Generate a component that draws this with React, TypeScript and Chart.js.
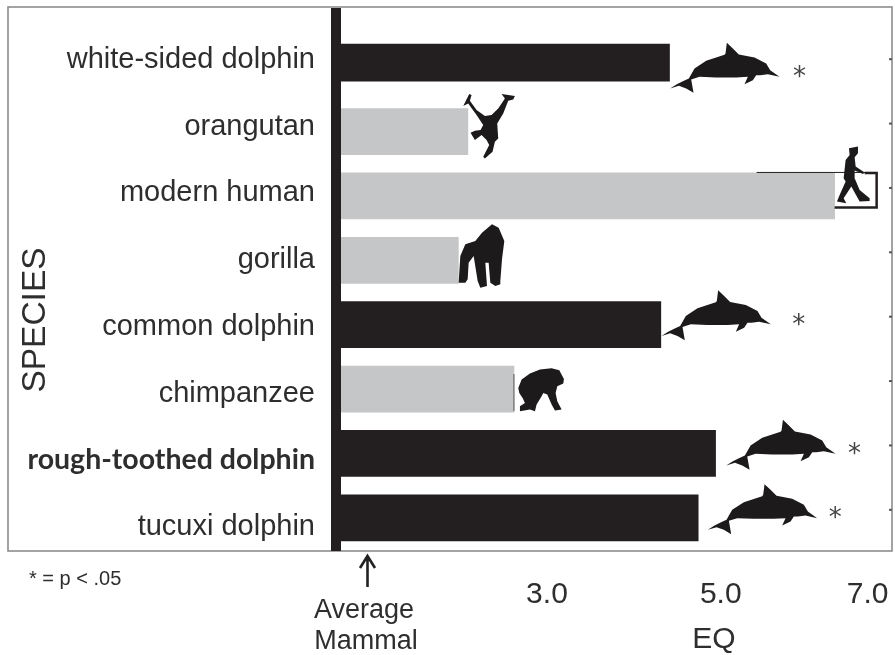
import React, { useEffect, useRef } from "react";
import { Chart, registerables } from "chart.js";

Chart.register(...registerables);

const species = [
  "white-sided dolphin",
  "orangutan",
  "modern human",
  "gorilla",
  "common dolphin",
  "chimpanzee",
  "rough-toothed dolphin",
  "tucuxi dolphin",
];
const eqValues = [4.41, 2.09, 6.31, 1.98, 4.31, 2.62, 4.94, 4.74];
const isCetacean = [true, false, false, false, true, false, true, true];
const significant = [true, false, false, false, true, false, true, true];
const xTickLabels = ["3.0", "5.0", "7.0"];
const xTickAnchors = [3, 5, 6.69];

const BLACK = "#231f20";
const GRAY = "#c5c6c8";
const TEXT = "#2e2e2e";
const SANS = '"Liberation Sans", Arial, sans-serif';

type Pt = number[];
const DOLPHIN: Pt[] = [[92,205],[112,192],[130,183],[148,175],[165,145],[200,122],[255,104],[258,100],[262,68],[280,85],[298,103],[345,112],[380,130],[392,150],[420,170],[385,162],[362,165],[350,165],[340,180],[315,192],[325,170],[290,172],[230,172],[180,170],[155,178],[162,218],[140,205],[118,197]];
const ORANGUTAN: Pt[] = [[70,78],[88,42],[95,45],[90,62],[110,90],[135,108],[155,105],[175,85],[195,55],[185,42],[225,48],[220,58],[205,62],[190,100],[172,130],[175,175],[165,185],[158,215],[135,235],[130,230],[148,195],[140,180],[125,165],[105,180],[92,158],[105,152],[122,150],[130,135],[110,105],[85,70]];
const HUMAN: Pt[] = [[628,385],[655,380],[655,400],[645,412],[648,440],[675,458],[670,462],[645,452],[645,475],[660,510],[690,535],[690,543],[660,545],[635,500],[612,535],[620,550],[592,545],[600,525],[618,485],[612,475],[618,420],[630,405]];
const GORILLA: Pt[] = [[55,190],[60,110],[75,75],[105,65],[125,40],[155,15],[175,25],[192,65],[185,120],[180,185],[180,195],[165,200],[150,190],[145,130],[135,130],[140,200],[120,205],[112,185],[100,110],[85,130],[82,180],[75,190]];
const CHIMP: Pt[] = [[235,505],[245,480],[270,462],[300,450],[335,446],[358,452],[372,478],[370,492],[352,500],[347,520],[352,545],[365,570],[345,573],[335,555],[322,525],[310,520],[305,530],[290,555],[285,575],[270,570],[240,575],[240,560],[255,550],[248,535],[238,520]];

const silhouettes: { shape: Pt[]; dx: number; dy: number }[] = [
  { shape: DOLPHIN, dx: -30, dy: -47 },
  { shape: ORANGUTAN, dx: -28, dy: -51.5 },
  { shape: HUMAN, dx: -195, dy: -176 },
  { shape: GORILLA, dx: -18, dy: -41 },
  { shape: DOLPHIN, dx: -30, dy: -57 },
  { shape: CHIMP, dx: -74, dy: -169.5 },
  { shape: DOLPHIN, dx: -20, dy: -56.3 },
  { shape: DOLPHIN, dx: -21, dy: -56.3 },
];
const starOffsets = [130, 0, 0, 0, 138, 0, 139, 137];
const starDy = [11, 0, 0, 0, 2, 0, 2, 1];

const decorations = {
  id: "decorations",
  afterDatasetsUpdate(chart: any) {
    // the top bar is shorter than the rest and sits flush with its row's top
    const el = chart.getDatasetMeta(0).data[0];
    if (el) {
      el.height = el.height - 9;
      el.y = el.y - 4.5;
    }
  },
  afterDatasetsDraw(chart: any) {
    const { ctx, chartArea, scales } = chart;
    const x = scales.x;
    const y = scales.y;
    ctx.save();

    // frame
    ctx.strokeStyle = "#8a8c8e";
    ctx.lineWidth = 1.6;
    ctx.strokeRect(8, 7, 884, chartArea.bottom + 1 - 7);

    // heavy baseline
    ctx.fillStyle = BLACK;
    ctx.fillRect(chartArea.left - 10, 8, 10, chartArea.bottom + 1 - 8);

    // small marks on the right edge
    ctx.fillStyle = "#555";
    species.forEach((_, i) => {
      ctx.fillRect(chartArea.right - 3, y.getPixelForValue(i) - 9, 3, 2);
    });

    // silhouettes
    ctx.fillStyle = "#1c1a1b";
    ctx.filter = "blur(0.5px)";
    silhouettes.forEach((s, i) => {
      ctx.save();
      ctx.translate(x.getPixelForValue(eqValues[i]) + s.dx, y.getPixelForValue(i) + s.dy);
      ctx.scale(1 / 3, 1 / 3);
      ctx.beginPath();
      s.shape.forEach((p, k) => (k ? ctx.lineTo(p[0], p[1]) : ctx.moveTo(p[0], p[1])));
      ctx.closePath();
      ctx.fill();
      ctx.restore();
    });
    ctx.filter = "none";

    // bracket behind the human figure
    const hx = x.getPixelForValue(eqValues[2]);
    const hy = y.getPixelForValue(2);
    ctx.strokeStyle = BLACK;
    ctx.lineWidth = 1;
    ctx.beginPath();
    ctx.moveTo(hx - 78, hy - 23.5);
    ctx.lineTo(hx + 42, hy - 23.5);
    ctx.stroke();
    ctx.lineWidth = 2.5;
    ctx.beginPath();
    ctx.moveTo(hx + 30, hy - 23);
    ctx.lineTo(hx + 42, hy - 23);
    ctx.lineTo(hx + 42, hy + 11.5);
    ctx.lineTo(hx, hy + 11.5);
    ctx.stroke();

    // thin dark edge on the chimpanzee bar
    const cx = x.getPixelForValue(eqValues[5]);
    const cy = y.getPixelForValue(5);
    ctx.fillStyle = "#555";
    ctx.fillRect(cx - 0.5, cy - 15, 1, 37);

    // significance stars
    ctx.fillStyle = "#444";
    ctx.font = `26px "DejaVu Sans"`;
    ctx.textAlign = "center";
    ctx.textBaseline = "middle";
    significant.forEach((on, i) => {
      if (!on) return;
      ctx.fillText("*", x.getPixelForValue(eqValues[i]) + starOffsets[i], y.getPixelForValue(i) + starDy[i]);
    });

    // outside texts
    ctx.fillStyle = TEXT;
    ctx.textBaseline = "middle";
    ctx.font = `27px ${SANS}`;
    ctx.fillText("Average", 364, 611);
    ctx.fillText("Mammal", 366, 642);
    ctx.font = `30px ${SANS}`;
    ctx.fillText("EQ", 714, 640);

    ctx.textAlign = "left";
    ctx.font = `20px ${SANS}`;
    ctx.fillText("* = p < .05", 29, 579);

    ctx.save();
    ctx.translate(36, 320);
    ctx.rotate(-Math.PI / 2);
    ctx.textAlign = "center";
    ctx.font = `33.5px ${SANS}`;
    ctx.fillText("SPECIES", 0, 0);
    ctx.restore();

    // arrow to the average mammal
    ctx.strokeStyle = "#222";
    ctx.lineWidth = 2.6;
    ctx.beginPath();
    ctx.moveTo(367.5, 587);
    ctx.lineTo(367.5, 556);
    ctx.moveTo(360, 568);
    ctx.lineTo(367.5, 556);
    ctx.lineTo(375, 568);
    ctx.stroke();
    ctx.restore();
  },
};

export default function App() {
  const ref = useRef<HTMLCanvasElement | null>(null);
  useEffect(() => {
    document.body.style.margin = "0";
    const chart = new Chart(ref.current as HTMLCanvasElement, {
      type: "bar",
      data: {
        labels: species,
        datasets: [
          {
            data: eqValues,
            backgroundColor: isCetacean.map((c) => (c ? BLACK : GRAY)),
            barThickness: 46,
          },
        ],
      },
      plugins: [decorations],
      options: {
        indexAxis: "y",
        animation: false,
        responsive: false,
        layout: { padding: { left: 8, right: 3, top: 35, bottom: 0 } },
        plugins: { legend: { display: false }, tooltip: { enabled: false } },
        scales: {
          x: {
            type: "linear",
            min: 0.63,
            max: 6.97,
            position: "bottom",
            grid: { display: false, drawTicks: false },
            border: { display: false },
            afterFit: (s: any) => {
              s.height = 105;
              s.paddingLeft = 0;
              s.paddingRight = 0;
            },
            afterBuildTicks: (s: any) => {
              s.ticks = xTickAnchors.map((value) => ({ value }));
            },
            ticks: {
              autoSkip: false,
              maxRotation: 0,
              padding: 27,
              color: TEXT,
              font: { family: SANS, size: 30 },
              callback: (_v: any, i: number) => xTickLabels[i],
            },
          },
          y: {
            type: "category",
            display: false,
            position: "left",
          },
          yLabels: {
            type: "linear",
            position: "left",
            reverse: true,
            offset: false,
            bounds: "data",
            min: -0.375,
            max: 7.346,
            grid: { display: false, drawTicks: false, offset: false },
            border: { display: false },
            afterFit: (s: any) => {
              s.width = 333;
              s.paddingTop = 0;
              s.paddingBottom = 0;
            },
            afterBuildTicks: (s: any) => {
              s.min = -0.375;
              s.max = 7.346;
              s.ticks = species.map((_, value) => ({ value }));
            },
            ticks: {
              autoSkip: false,
              padding: 26,
              color: TEXT,
              font: (c: any) =>
                c.index === 6
                  ? { family: "Lato", size: 28.5, weight: "bold" }
                  : { family: SANS, size: 29 },
              callback: (_v: any, i: number) => species[i],
            },
          },
        },
      } as any,
    });
    return () => chart.destroy();
  }, []);
  return <canvas ref={ref} width={895} height={655} style={{ display: "block", width: 895, height: 655 }} />;
}
